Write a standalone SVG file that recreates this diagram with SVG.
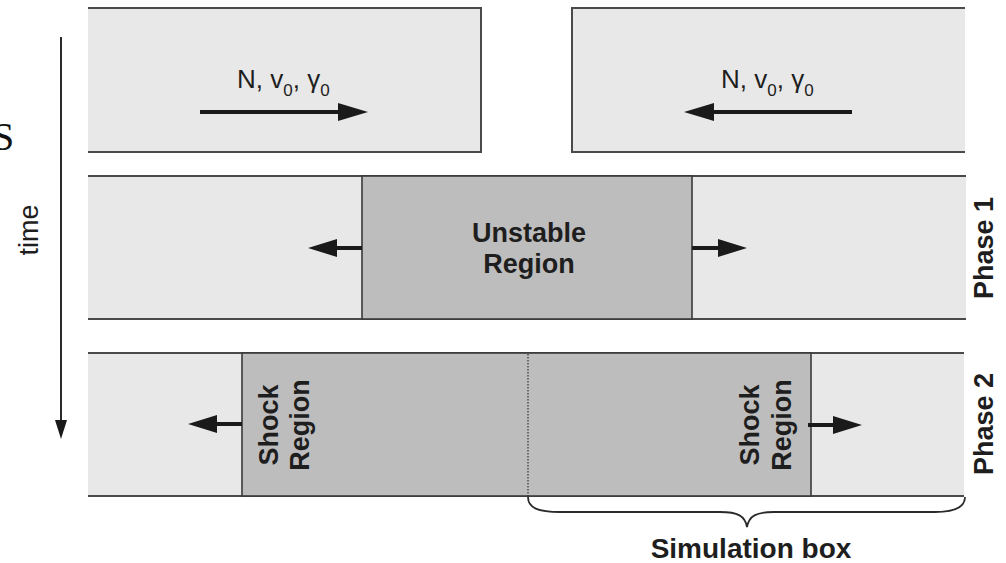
<svg xmlns="http://www.w3.org/2000/svg" width="1006" height="563" viewBox="0 0 1006 563">
<defs>
<style>
.band{fill:#e8e8e8;stroke:none}
.edge{stroke:#4a4a4a;stroke-width:2;fill:none}
.reg{fill:#bdbdbd;stroke:#3a3a3a;stroke-width:1.6}
.arr{stroke:#1a1a1a;stroke-width:4;fill:none}
.head{fill:#1a1a1a}
.lbl{font-family:"Liberation Sans",Arial,sans-serif;fill:#1e1e1e}
.b{font-weight:bold;font-size:27px}
.r{font-size:26px}
.sub{font-size:17px}
</style>
</defs>
<rect width="1006" height="563" fill="#ffffff"/>
<text x="-8" y="150" font-family="Liberation Serif, serif" font-size="40" fill="#111">S</text>

<g id="time-axis">
<line x1="61" y1="37" x2="61" y2="425" stroke="#2a2a2a" stroke-width="2"/>
<polygon points="55,420 67,420 61,439" fill="#1a1a1a"/>
<text class="lbl" font-size="27" transform="translate(38,230) rotate(-90)" text-anchor="middle">time</text>
</g>

<g id="beam-left">
<rect class="band" x="88" y="8" width="393" height="144"/>
<polyline class="edge" points="88,8 481,8 481,152 88,152"/>
<text class="lbl r" x="237" y="88">N, v<tspan class="sub" dy="8">0</tspan><tspan dy="-8">, γ</tspan><tspan class="sub" dy="8">0</tspan></text>
</g>

<g id="beam-right">
<rect class="band" x="572" y="8" width="393" height="144"/>
<polyline class="edge" points="965,8 572,8 572,152 965,152"/>
<text class="lbl r" x="721" y="88">N, v<tspan class="sub" dy="8">0</tspan><tspan dy="-8">, γ</tspan><tspan class="sub" dy="8">0</tspan></text>
</g>

<g id="phase1">
<rect class="band" x="88" y="176" width="878" height="143"/>
<line class="edge" x1="88" y1="176" x2="966" y2="176"/>
<line class="edge" x1="88" y1="319" x2="966" y2="319"/>
<text class="lbl b" transform="translate(993,248) rotate(-90)" text-anchor="middle">Phase 1</text>
</g>

<g id="unstable-region">
<rect class="reg" x="362" y="176" width="330" height="143"/>
<text class="lbl b" x="529" y="242" text-anchor="middle">Unstable</text>
<text class="lbl b" x="529" y="273" text-anchor="middle">Region</text>
</g>

<g id="phase2">
<rect class="band" x="88" y="353" width="876" height="143"/>
<line class="edge" x1="88" y1="353" x2="964" y2="353"/>
<line class="edge" x1="88" y1="496" x2="964" y2="496"/>
<text class="lbl b" transform="translate(993,424) rotate(-90)" text-anchor="middle">Phase 2</text>
</g>

<g id="shock-region">
<rect class="reg" x="242" y="353" width="569" height="143"/>
<line x1="528" y1="354" x2="528" y2="496" stroke="#333" stroke-width="1.2" stroke-dasharray="1.5,1.5"/>
<text class="lbl b" transform="translate(278,425) rotate(-90)" text-anchor="middle">Shock</text>
<text class="lbl b" transform="translate(309,425) rotate(-90)" text-anchor="middle">Region</text>
<text class="lbl b" transform="translate(759,425) rotate(-90)" text-anchor="middle">Shock</text>
<text class="lbl b" transform="translate(791,425) rotate(-90)" text-anchor="middle">Region</text>
</g>

<g id="simulation-box">
<path d="M528,497 C528,508 538,512 560,512 L720,512 C738,512 745,516 747,527 C749,516 756,512 774,512 L935,512 C957,512 965,506 965,497" fill="none" stroke="#2a2a2a" stroke-width="1.8"/>
<text class="lbl" font-weight="bold" font-size="28" x="751" y="558" text-anchor="middle">Simulation box</text>
</g>

<g id="connectors">
<line class="arr" x1="200" y1="112" x2="342" y2="112"/>
<polygon class="head" points="338,103 368,112 338,121"/>
<line class="arr" x1="852" y1="112" x2="710" y2="112"/>
<polygon class="head" points="714,103 684,112 714,121"/>
<line class="arr" x1="362" y1="248" x2="334" y2="248"/>
<polygon class="head" points="337,239 308,248 337,257"/>
<line class="arr" x1="692" y1="248" x2="720" y2="248"/>
<polygon class="head" points="718,239 747,248 718,257"/>
<line class="arr" x1="242" y1="424" x2="214" y2="424"/>
<polygon class="head" points="217,415 188,424 217,433"/>
<line class="arr" x1="808" y1="425" x2="836" y2="425"/>
<polygon class="head" points="833,416 862,425 833,434"/>
</g>
</svg>
